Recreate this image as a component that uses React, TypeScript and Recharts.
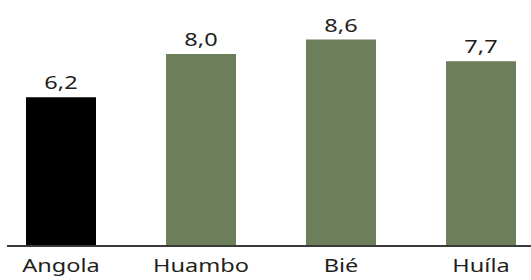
import { Bar, BarChart, Cell, LabelList, XAxis, YAxis } from "recharts";

const regions = ["Angola", "Huambo", "Bié", "Huíla"];
const values = [6.2, 8.0, 8.6, 7.7];
const highlight = ["Angola"];

const data = regions.map((name, i) => ({ name, value: values[i] }));

const GREEN = "#6d7e5a";
const FONT = "'Noto Sans', sans-serif";
const STRETCH = 1.24;

const CategoryTick = (props: any) => {
  const { x, y, payload } = props;
  return (
    <g transform={`translate(${x},${y}) scale(${STRETCH},1)`}>
      <text
        x={0}
        y={26}
        textAnchor="middle"
        fontSize={19}
        fontFamily={FONT}
        fill="#231f20"
      >
        {payload.value}
      </text>
    </g>
  );
};

const ValueLabel = (props: any) => {
  const { x, y, width, value } = props;
  const cx = Number(x) + Number(width) / 2;
  return (
    <g transform={`translate(${cx},${Number(y) - 8}) scale(${STRETCH},1)`}>
      <text
        x={0}
        y={0}
        textAnchor="middle"
        fontSize={19}
        fontFamily={FONT}
        fill="#231f20"
      >
        {Number(value).toFixed(1).replace(".", ",")}
      </text>
    </g>
  );
};

export default function App() {
  return (
    <div style={{ position: "fixed", left: 0, top: 0, background: "#fff", overflow: "hidden", width: 531, height: 280 }}>
      <BarChart
        width={531}
        height={280}
        data={data}
        margin={{ top: 6, right: 0, bottom: 0, left: 7 }}
        barSize={70}
      >
        <YAxis hide domain={[0, 10]} />
        <XAxis
          dataKey="name"
          height={34}
          padding={{ left: -16, right: -20 }}
          axisLine={{ stroke: "#3a3a3a", strokeWidth: 2 }}
          tickLine={false}
          tickSize={0}
          tickMargin={0}
          interval={0}
          tick={<CategoryTick />}
        />
        <Bar dataKey="value" isAnimationActive={false}>
          {data.map((d) => (
            <Cell
              key={d.name}
              fill={highlight.includes(d.name) ? "#000000" : GREEN}
            />
          ))}
          <LabelList dataKey="value" content={<ValueLabel />} />
        </Bar>
      </BarChart>
    </div>
  );
}
